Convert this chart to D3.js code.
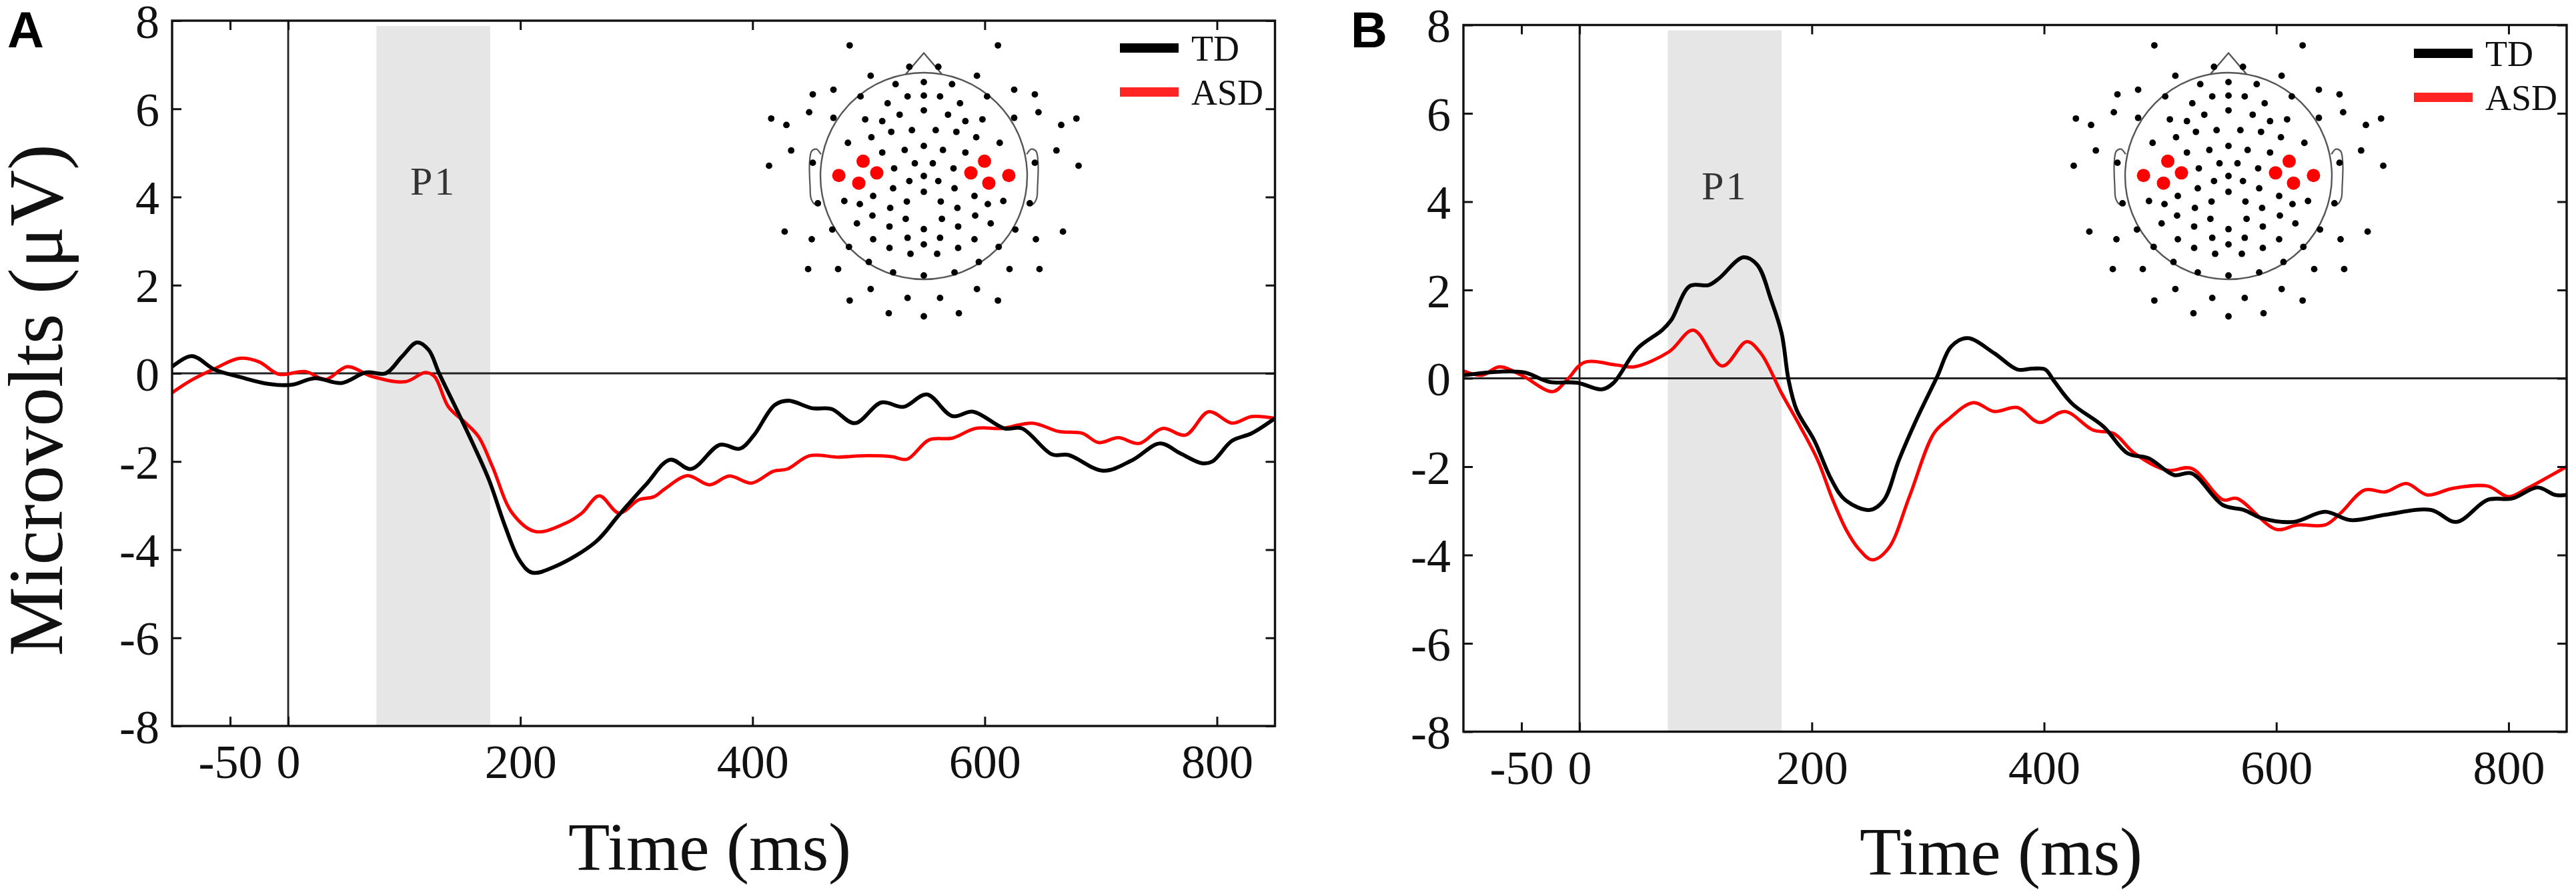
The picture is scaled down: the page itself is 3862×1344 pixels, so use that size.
<!DOCTYPE html>
<html>
<head>
<meta charset="utf-8">
<script src="https://cdn.jsdelivr.net/npm/d3@7"></script>
<style>
  html, body { margin: 0; padding: 0; background: #fff; }
  svg { display: block; }
</style>
</head>
<body>
<svg id="chart" width="3862" height="1344"></svg>
<script>
// ---- values ----
var xTicks = [-50, 0, 200, 400, 600, 800];
var yTicks = [-8, -6, -4, -2, 0, 2, 4, 6, 8];
var xDomain = [-100, 850];
var yDomain = [-8, 8];
var p1Window = [76, 174];
var legendNames = ["TD", "ASD"];

// [time (ms), amplitude (uV)]
var tdA = [[-100,0.15],[-83,0.39],[-63,0.08],[-42,-0.08],[-17,-0.24],[3,-0.26],[23,-0.11],[46,-0.22],
  [67,0.02],[84,0.0],[98,0.38],[111,0.70],[121,0.53],[130,0.0],[144,-0.76],[159,-1.59],[173,-2.42],
  [187,-3.48],[199,-4.23],[210,-4.52],[230,-4.38],[265,-3.82],[285,-3.21],[308,-2.53],[329,-1.96],
  [347,-2.17],[372,-1.62],[389,-1.71],[401,-1.41],[419,-0.72],[431,-0.62],[451,-0.79],[468,-0.81],
  [488,-1.13],[511,-0.66],[530,-0.76],[550,-0.48],[572,-0.97],[590,-0.87],[617,-1.25],[632,-1.25],
  [658,-1.84],[672,-1.85],[702,-2.21],[727,-1.97],[751,-1.59],[768,-1.81],[787,-2.04],[796,-2.0],
  [813,-1.53],[830,-1.36],[850,-1.02]];
var asdA = [[-100,-0.44],[-83,-0.15],[-63,0.11],[-42,0.34],[-25,0.26],[-8,-0.02],[15,0.04],[32,-0.14],
  [51,0.15],[72,-0.07],[101,-0.19],[118,0.02],[126,-0.07],[138,-0.76],[153,-1.13],[164,-1.44],
  [176,-2.12],[193,-3.17],[213,-3.59],[239,-3.40],[253,-3.17],[268,-2.78],[285,-3.17],[302,-2.87],
  [315,-2.80],[325,-2.61],[344,-2.32],[363,-2.53],[380,-2.33],[399,-2.49],[418,-2.22],[430,-2.17],
  [449,-1.87],[474,-1.90],[494,-1.87],[520,-1.89],[533,-1.95],[552,-1.51],[572,-1.47],[592,-1.25],
  [615,-1.25],[641,-1.13],[664,-1.32],[684,-1.36],[698,-1.57],[715,-1.46],[733,-1.59],[753,-1.25],
  [773,-1.40],[793,-0.87],[813,-1.13],[830,-0.98],[850,-1.02]];
var tdB = [[-100,0.07],[-69,0.15],[-47,0.13],[-26,-0.08],[-2,-0.10],[19,-0.25],[29,-0.11],[50,0.68],
  [71,1.09],[79,1.32],[95,2.09],[111,2.11],[120,2.26],[141,2.74],[153,2.57],[165,1.77],[174,1.02],
  [180,-0.04],[187,-0.72],[202,-1.40],[217,-2.30],[229,-2.76],[250,-2.98],[262,-2.76],[275,-1.85],
  [290,-0.94],[308,0.04],[320,0.72],[334,0.91],[357,0.57],[377,0.20],[390,0.22],[401,0.20],[408,-0.04],
  [424,-0.57],[451,-1.09],[472,-1.70],[490,-1.81],[512,-2.19],[527,-2.15],[554,-2.87],[572,-2.98],
  [588,-3.17],[615,-3.25],[642,-3.02],[664,-3.21],[694,-3.09],[733,-2.98],[755,-3.25],[782,-2.75],
  [803,-2.72],[825,-2.47],[840,-2.64],[850,-2.64]];
var asdB = [[-100,0.17],[-84,0.07],[-69,0.26],[-50,0.07],[-23,-0.30],[-11,-0.04],[4,0.36],[32,0.30],
  [47,0.26],[77,0.60],[98,1.09],[123,0.28],[144,0.83],[156,0.57],[174,-0.34],[190,-1.09],[205,-1.85],
  [218,-2.75],[230,-3.45],[240,-3.85],[252,-4.11],[266,-3.85],[284,-2.68],[305,-1.25],[317,-0.94],
  [339,-0.55],[357,-0.75],[377,-0.66],[396,-1.00],[418,-0.75],[442,-1.17],[460,-1.25],[478,-1.70],
  [506,-2.08],[527,-2.04],[554,-2.75],[566,-2.72],[600,-3.42],[618,-3.32],[642,-3.32],[655,-3.06],
  [676,-2.53],[694,-2.57],[712,-2.38],[730,-2.64],[752,-2.49],[782,-2.44],[800,-2.68],[816,-2.49],
  [837,-2.19],[850,-2.0]];

// sensor net, head radius = 1; left half is mirrored to the right
var sensorsLeft = [[-0.717,-1.264],[-0.140,-1.057],[-0.514,-0.970],[-0.273,-0.889],[-1.074,-0.790],
  [-0.874,-0.835],[-0.612,-0.770],[-0.157,-0.770],[-0.350,-0.704],[-0.234,-0.593],[-1.109,-0.617],
  [-1.476,-0.556],[-1.329,-0.494],[-0.874,-0.563],[-0.567,-0.548],[-0.402,-0.531],[-0.315,-0.427],
  [-0.115,-0.444],[-0.507,-0.375],[-0.734,-0.321],[-0.185,-0.252],[-0.402,-0.227],[-1.283,-0.247],
  [-1.497,-0.099],[-1.074,-0.128],[-0.087,-0.123],[-0.287,-0.074],[-0.140,0.049],[-0.297,0.119],
  [-0.490,0.193],[-0.769,0.242],[-1.025,0.264],[-0.619,0.272],[-0.164,0.247],[-0.325,0.309],
  [-0.497,0.383],[-0.175,0.415],[-0.647,0.459],[-0.332,0.489],[-0.885,0.518],[-1.346,0.538],
  [-1.084,0.612],[-0.490,0.612],[-0.157,0.598],[-0.724,0.686],[-0.332,0.696],[-0.129,0.753],
  [-0.532,0.832],[-1.119,0.901],[-0.829,0.901],[-0.297,0.933],[-0.514,1.094],[-0.157,1.180],
  [-0.717,1.205],[-0.339,1.328]];
var sensorsMid = [[0,-0.909],[0,-0.778],[0,-0.635],[0,-0.291],[0,0],[0,0.153],[0,0.514],[0,0.662],[0,0.963],[0,1.358]];
var sensorsRoiLeft = [[-0.587,-0.143],[-0.822,-0.005],[-0.455,-0.030],[-0.629,0.069]];
var noseOutline = [[-0.175,-0.985],[0,-1.19],[0.175,-0.985]];
var earOutline = [[-0.995,-0.21],[-1.04,-0.26],[-1.085,-0.24],[-1.105,-0.13],[-1.10,0.10],[-1.09,0.22],[-1.05,0.275],[-1.0,0.25]];

// ---- layout ----
var panels = [
  { letter: "A", td: tdA, asd: asdA, left: 258, right: 1911.5, top: 31, bottom: 1089,
    head: [1385, 264], legend: [1679, 72], letterPos: [11, 71], xlab: [1064, 1305], ylab: true },
  { letter: "B", td: tdB, asd: asdB, left: 2194, right: 3848, top: 37.5, bottom: 1097.5,
    head: [3341, 264], legend: [3619, 80], letterPos: [2025, 71], xlab: [3000, 1312], ylab: false }
];

var SERIF = "'Liberation Serif', 'Times New Roman', serif";
var RED = "#ff0000";
var svg = d3.select("#chart");

function mirror(pts) { return pts.map(function (p) { return [-p[0], p[1]]; }); }
var allSensors = sensorsLeft.concat(mirror(sensorsLeft), sensorsMid);
var roiSensors = sensorsRoiLeft.concat(mirror(sensorsRoiLeft));

function drawPanel(p) {
  var g = svg.append("g");
  var x = d3.scaleLinear().domain(xDomain).range([p.left, p.right]);
  var y = d3.scaleLinear().domain(yDomain).range([p.bottom, p.top]);

  // P1 window
  g.append("rect")
    .attr("x", x(p1Window[0])).attr("y", y(7.88))
    .attr("width", x(p1Window[1]) - x(p1Window[0]))
    .attr("height", y(-8) - y(7.88))
    .attr("fill", "#e6e6e6");

  g.append("text")
    .attr("x", x((p1Window[0] + p1Window[1]) / 2)).attr("y", y(4.05))
    .attr("text-anchor", "middle")
    .attr("font-family", SERIF).attr("font-size", 60).attr("letter-spacing", 3)
    .attr("fill", "#333").text("P1");

  // zero lines
  g.append("line").attr("x1", p.left).attr("x2", p.right).attr("y1", y(0)).attr("y2", y(0))
    .attr("stroke", "#222").attr("stroke-width", 2.8);
  g.append("line").attr("x1", x(0)).attr("x2", x(0)).attr("y1", p.top).attr("y2", p.bottom)
    .attr("stroke", "#222").attr("stroke-width", 2.8);

  // waveforms
  var line = d3.line()
    .x(function (d) { return x(d[0]); })
    .y(function (d) { return y(d[1]); })
    .curve(d3.curveCatmullRom.alpha(0.5));

  g.append("path").datum(p.asd).attr("d", line)
    .attr("fill", "none").attr("stroke", RED).attr("stroke-width", 5)
    .attr("stroke-linejoin", "round");
  g.append("path").datum(p.td).attr("d", line)
    .attr("fill", "none").attr("stroke", "#000").attr("stroke-width", 5.8)
    .attr("stroke-linejoin", "round");

  // axes, ticks pointing inward on all four sides
  var fmt = function (d) { return String(d); };
  var axB = g.append("g").attr("transform", "translate(0," + p.bottom + ")")
    .call(d3.axisBottom(x).tickValues(xTicks).tickSize(-14).tickSizeOuter(0).tickPadding(27).tickFormat(fmt));
  var axT = g.append("g").attr("transform", "translate(0," + p.top + ")")
    .call(d3.axisTop(x).tickValues(xTicks).tickSize(-14).tickSizeOuter(0).tickFormat(""));
  var axL = g.append("g").attr("transform", "translate(" + p.left + ",0)")
    .call(d3.axisLeft(y).tickValues(yTicks).tickSize(-14).tickSizeOuter(0).tickPadding(19).tickFormat(fmt));
  var axR = g.append("g").attr("transform", "translate(" + p.right + ",0)")
    .call(d3.axisRight(y).tickValues(yTicks).tickSize(-14).tickSizeOuter(0).tickFormat(""));

  [axB, axT, axL, axR].forEach(function (ax) {
    ax.select(".domain").remove();
    ax.selectAll("line").attr("stroke", "#111").attr("stroke-width", 3);
    ax.selectAll("text").attr("font-family", SERIF).attr("font-size", 72).attr("fill", "#111");
  });
  axL.selectAll("text").attr("dy", "0.35em");

  // frame
  g.append("rect")
    .attr("x", p.left).attr("y", p.top)
    .attr("width", p.right - p.left).attr("height", p.bottom - p.top)
    .attr("fill", "none").attr("stroke", "#111").attr("stroke-width", 3.4);

  // axis titles
  g.append("text")
    .attr("x", p.xlab[0]).attr("y", p.xlab[1])
    .attr("text-anchor", "middle")
    .attr("font-family", SERIF).attr("font-size", 102).attr("fill", "#111")
    .text("Time (ms)");

  if (p.ylab) {
    g.append("text")
      .attr("transform", "translate(93,600) rotate(-90)")
      .attr("text-anchor", "middle")
      .attr("font-family", SERIF).attr("font-size", 117).attr("fill", "#111")
      .text("Microvolts (\u03bcV)");
  }

  // panel letter
  g.append("text")
    .attr("x", p.letterPos[0]).attr("y", p.letterPos[1])
    .attr("font-family", "'Liberation Sans', Arial, sans-serif").attr("font-weight", "bold")
    .attr("font-size", 76).attr("fill", "#000")
    .text(p.letter);

  // legend
  var lg = g.append("g").attr("transform", "translate(" + p.legend[0] + "," + p.legend[1] + ")");
  var legendColors = ["#000", "#ff2424"];
  legendNames.forEach(function (name, i) {
    lg.append("line").attr("x1", 0).attr("x2", 88).attr("y1", i * 66).attr("y2", i * 66)
      .attr("stroke", legendColors[i]).attr("stroke-width", 14);
    lg.append("text").attr("x", 107).attr("y", i * 66 + 19)
      .attr("font-family", SERIF).attr("font-size", 54).attr("fill", "#111")
      .text(name);
  });

  // head map
  var hx = d3.scaleLinear().domain([-1, 1]).range([p.head[0] - 155, p.head[0] + 155]);
  var hy = d3.scaleLinear().domain([-1, 1]).range([p.head[1] - 155, p.head[1] + 155]);
  var hm = g.append("g");
  var outline = d3.line().x(function (d) { return hx(d[0]); }).y(function (d) { return hy(d[1]); });
  var earLine = d3.line().x(function (d) { return hx(d[0]); }).y(function (d) { return hy(d[1]); })
    .curve(d3.curveCatmullRom);

  hm.append("circle").attr("cx", hx(0)).attr("cy", hy(0)).attr("r", hx(1) - hx(0))
    .attr("fill", "none").attr("stroke", "#555").attr("stroke-width", 2.4);
  hm.append("path").attr("d", outline(noseOutline))
    .attr("fill", "none").attr("stroke", "#555").attr("stroke-width", 2.4);
  [earOutline, mirror(earOutline)].forEach(function (ear) {
    hm.append("path").attr("d", earLine(ear))
      .attr("fill", "none").attr("stroke", "#555").attr("stroke-width", 2.2);
  });

  hm.selectAll("circle.sensor").data(allSensors).enter().append("circle")
    .attr("class", "sensor")
    .attr("cx", function (d) { return hx(d[0]); })
    .attr("cy", function (d) { return hy(d[1]); })
    .attr("r", 4.9).attr("fill", "#000");
  hm.selectAll("circle.roi").data(roiSensors).enter().append("circle")
    .attr("class", "roi")
    .attr("cx", function (d) { return hx(d[0]); })
    .attr("cy", function (d) { return hy(d[1]); })
    .attr("r", 10).attr("fill", RED);
}

panels.forEach(drawPanel);
</script>
</body>
</html>
